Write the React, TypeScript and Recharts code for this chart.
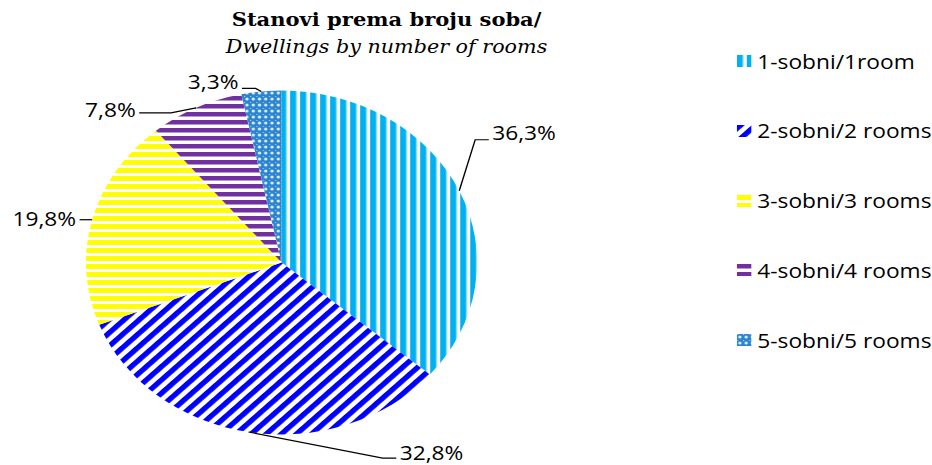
import React from 'react';
import { PieChart, Pie, Cell } from 'recharts';

const CATEGORIES = ['1-sobni/1room', '2-sobni/2 rooms', '3-sobni/3 rooms', '4-sobni/4 rooms', '5-sobni/5 rooms'];
const SHARES = [36.3, 32.8, 19.8, 7.8, 3.3];
const SHARE_LABELS = ['36,3%', '32,8%', '19,8%', '7,8%', '3,3%'];
const PATTERN_IDS = ['p-one', 'p-two', 'p-three', 'p-four', 'p-five'];

// the original picture is stretched sideways, so draw narrow and scale the whole thing
const SX = 1.137;
const W0 = 932 / SX;
const H = 465;
const FONT = '"Open Sans", sans-serif';

// leader line layout per slice: elbow offset from the slice edge, horizontal run, text offset
const LABEL_LAYOUT = [
  { ex: 14, ey: -51, run: 12, ty: -8 },
  { ex: 118, ey: 26, run: 12, ty: -6 },
  { ex: 0, ey: 0, run: -11, ty: -2 },
  { ex: -22, ey: 5, run: -28, ty: -4 },
  { ex: -5, ey: -3, run: -12, ty: -7 },
];

const data = CATEGORIES.map((name, i) => ({ name, value: SHARES[i] }));

const RAD = Math.PI / 180;

function renderLabel(props: any) {
  const { cx, cy, midAngle, outerRadius, index } = props;
  const L = LABEL_LAYOUT[index];
  const x0 = cx + outerRadius * Math.cos(-midAngle * RAD);
  const y0 = cy + outerRadius * Math.sin(-midAngle * RAD);
  const x1 = x0 + L.ex;
  const y1 = y0 + L.ey;
  const x2 = x1 + L.run;
  const right = L.run > 0;
  return (
    <g key={`lbl-${index}`}>
      <polyline
        points={`${x0},${y0} ${x1},${y1} ${x2},${y1}`}
        fill="none"
        stroke="#000"
        strokeWidth={1.2}
      />
      <text
        x={x2 + (right ? 3 : -3)}
        y={y1 + L.ty}
        textAnchor={right ? 'start' : 'end'}
        dominantBaseline="central"
        fontFamily={FONT}
        fontSize={20}
        fill="#000"
      >
        {SHARE_LABELS[index]}
      </text>
    </g>
  );
}

function Patterns() {
  return (
    <svg width={0} height={0} style={{ position: 'absolute' }}>
      <defs>
        <pattern id="p-one" patternUnits="userSpaceOnUse" width={8.8} height={10}>
          <rect width={8.8} height={10} fill="#fff" />
          <rect x={0} width={5.3} height={10} fill="#00B0F0" />
          <rect x={5.3} width={0.8} height={10} fill="#8FDAF7" />
        </pattern>
        <pattern id="p-two" patternUnits="userSpaceOnUse" width={9.4} height={10} patternTransform="rotate(45)">
          <rect width={9.4} height={10} fill="#fff" />
          <rect x={0} width={5} height={10} fill="#0000FF" />
        </pattern>
        <pattern id="p-three" patternUnits="userSpaceOnUse" width={10} height={8}>
          <rect width={10} height={8} fill="#fff" />
          <rect y={0} width={10} height={5} fill="#FFFF00" />
        </pattern>
        <pattern id="p-four" patternUnits="userSpaceOnUse" width={10} height={8}>
          <rect width={10} height={8} fill="#fff" />
          <rect y={0} width={10} height={4.5} fill="#7030A0" />
        </pattern>
        <pattern id="p-five" patternUnits="userSpaceOnUse" width={5.5} height={6}>
          <rect width={5.5} height={6} fill="#2C84CF" />
          <circle cx={2.75} cy={3} r={1.5} fill="#D6ECFA" />
          <rect x={0} y={0} width={1} height={1} fill="#A9D3F2" />
        </pattern>
      </defs>
    </svg>
  );
}

export default function App() {
  return (
    <div
      style={{
        position: 'absolute',
        left: 0,
        top: 0,
        width: 932,
        height: H,
        overflow: 'hidden',
        background: '#fff',
      }}
    >
      <div
        style={{
          position: 'relative',
          width: W0,
          height: H,
          transform: `scaleX(${SX})`,
          transformOrigin: '0 0',
        }}
      >
        <Patterns />

        {/* Title */}
        <div
          style={{
            position: 'absolute',
            left: 140,
            top: 7,
            width: 400,
            textAlign: 'center',
            fontFamily: '"DejaVu Serif", serif',
            lineHeight: '26px',
            color: '#000',
          }}
        >
          <div style={{ fontWeight: 700, fontSize: 18.5 }}>Stanovi prema broju soba/</div>
          <div style={{ fontStyle: 'italic', fontSize: 18.2, marginTop: 1 }}>Dwellings by number of rooms</div>
        </div>

        <PieChart
          width={W0}
          height={H}
          margin={{ top: 0, right: 0, bottom: 0, left: 0 }}
          style={{ position: 'absolute', left: 0, top: 0 }}
        >
          <Pie
            data={data}
            dataKey="value"
            nameKey="name"
            cx={247.6}
            cy={262.5}
            outerRadius={172}
            startAngle={90}
            endAngle={-270}
            stroke="none"
            label={renderLabel}
            labelLine={false}
            isAnimationActive={false}
          >
            {data.map((d, i) => (
              <Cell key={d.name} fill={`url(#${PATTERN_IDS[i]})`} />
            ))}
          </Pie>
        </PieChart>

        {/* Legend */}
        {CATEGORIES.map((name, i) => (
          <div
            key={name}
            style={{
              position: 'absolute',
              left: 648,
              top: 61 + i * 69.8 - 13,
              height: 26,
              display: 'flex',
              alignItems: 'center',
              gap: 5,
              fontFamily: FONT,
              fontSize: 20,
              color: '#000',
              whiteSpace: 'nowrap',
            }}
          >
            <svg width={13} height={12}>
              <rect width={13} height={12} fill={`url(#${PATTERN_IDS[i]})`} />
            </svg>
            <span>{name}</span>
          </div>
        ))}
      </div>
    </div>
  );
}
